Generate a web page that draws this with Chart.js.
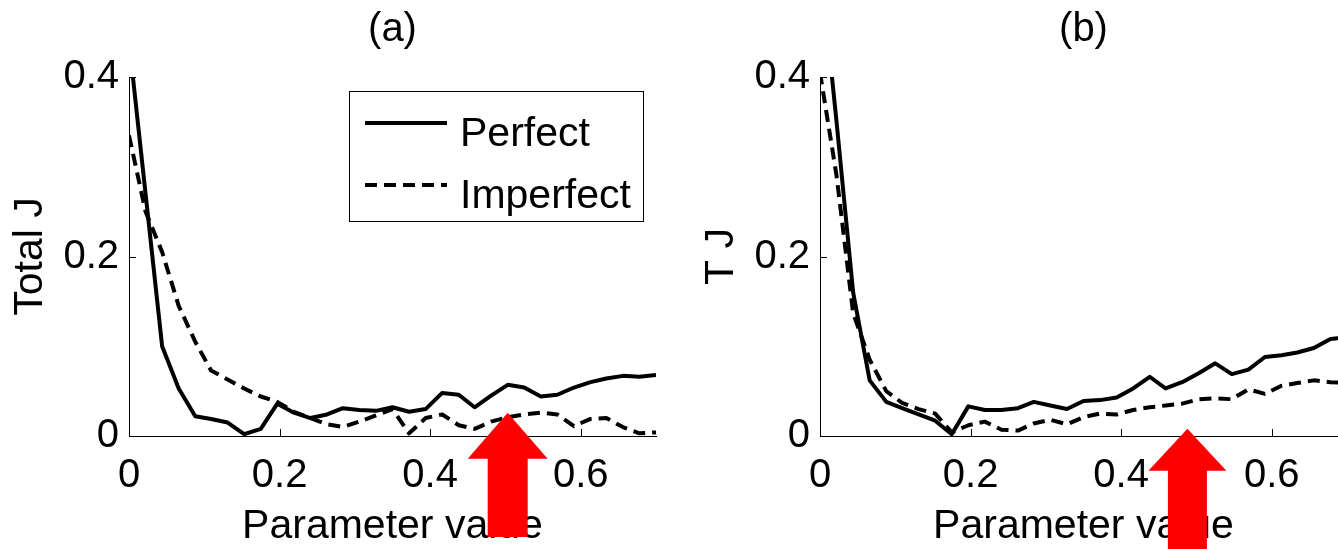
<!DOCTYPE html>
<html>
<head>
<meta charset="utf-8">
<script src="https://cdn.jsdelivr.net/npm/chart.js@4/dist/chart.umd.min.js"></script>
<style>
  html, body { margin: 0; padding: 0; background: #fff; }
  body { width: 1338px; height: 549px; overflow: hidden; position: relative; }
  canvas { position: absolute; top: 0; }
  #panelA { left: 0; }
  #panelB { left: 691px; }
</style>
</head>
<body>
<canvas id="panelA" width="700" height="549"></canvas>
<canvas id="panelB" width="700" height="549"></canvas>
<script>
// parameter sweep shared by both panels
const paramValues = [0, 0.022, 0.044, 0.066, 0.088, 0.109, 0.131, 0.153, 0.175, 0.197, 0.219,
  0.241, 0.263, 0.284, 0.306, 0.328, 0.35, 0.372, 0.394, 0.416, 0.438, 0.459, 0.481, 0.503,
  0.525, 0.547, 0.569, 0.591, 0.613, 0.634, 0.656, 0.678, 0.7];

// (a) Total J
const totalPerfect = [0.44, 0.27, 0.10, 0.053, 0.022, 0.019, 0.015, 0.002, 0.008, 0.036, 0.026,
  0.020, 0.024, 0.031, 0.029, 0.028, 0.032, 0.027, 0.030, 0.048, 0.046, 0.032, 0.045, 0.057,
  0.054, 0.044, 0.046, 0.054, 0.060, 0.064, 0.067, 0.066, 0.068];
const totalImperfect = [0.335, 0.25, 0.205, 0.145, 0.105, 0.073, 0.063, 0.053, 0.044, 0.038, 0.027,
  0.020, 0.013, 0.010, 0.016, 0.023, 0.030, 0.003, 0.020, 0.024, 0.012, 0.008, 0.016, 0.021,
  0.024, 0.026, 0.024, 0.011, 0.019, 0.020, 0.010, 0.003, 0.004];

// (b) T J
const tjPerfect = [0.53, 0.35, 0.16, 0.062, 0.038, 0.031, 0.024, 0.017, 0.002, 0.033, 0.029,
  0.029, 0.031, 0.038, 0.034, 0.030, 0.039, 0.040, 0.043, 0.053, 0.066, 0.053, 0.060, 0.070,
  0.081, 0.069, 0.074, 0.088, 0.090, 0.093, 0.098, 0.108, 0.110];
const tjImperfect = [0.405, 0.29, 0.137, 0.085, 0.050, 0.037, 0.030, 0.025, 0.004, 0.012, 0.016,
  0.007, 0.006, 0.014, 0.018, 0.013, 0.021, 0.025, 0.024, 0.029, 0.032, 0.034, 0.036, 0.041,
  0.042, 0.041, 0.052, 0.047, 0.056, 0.059, 0.062, 0.060, 0.059];

const seriesNames = ["Perfect", "Imperfect"];
const xTickValues = [0, 0.2, 0.4, 0.6];
const yTickValues = [0, 0.2, 0.4];

const FONT = "'Liberation Sans', Arial, Helvetica, sans-serif";

function points(ys) {
  return paramValues.map((x, i) => ({ x: x, y: ys[i] }));
}

// MATLAB-style ticks pointing into the plot box
const innerTicks = {
  id: "innerTicks",
  afterDraw(chart) {
    const { ctx, chartArea, scales } = chart;
    ctx.save();
    ctx.strokeStyle = "#000";
    ctx.lineWidth = 1;
    ctx.beginPath();
    scales.x.ticks.forEach(t => {
      if (t.value === 0) return;
      const px = Math.round(scales.x.getPixelForValue(t.value)) + 0.5;
      ctx.moveTo(px, chartArea.bottom);
      ctx.lineTo(px, chartArea.bottom - 7);
    });
    scales.y.ticks.forEach(t => {
      if (t.value === 0) return;
      const py = Math.round(scales.y.getPixelForValue(t.value)) + 0.5;
      ctx.moveTo(chartArea.left, py);
      ctx.lineTo(chartArea.left + 7, py);
    });
    ctx.stroke();
    ctx.restore();
  }
};

// boxed legend in the upper right of the plot
const boxLegend = {
  id: "boxLegend",
  afterDraw(chart, args, opts) {
    const { ctx, chartArea } = chart;
    const w = 294, h = 130;
    const left = chartArea.right - 13 - w;
    const top = chartArea.top + 14;
    ctx.save();
    ctx.fillStyle = "#fff";
    ctx.fillRect(left, top, w, h);
    ctx.strokeStyle = "#000";
    ctx.lineWidth = 1;
    ctx.strokeRect(left + 0.5, top + 0.5, w, h);
    chart.data.datasets.forEach((ds, i) => {
      const rowY = top + 32 + i * 62;
      ctx.beginPath();
      ctx.lineWidth = ds.borderWidth;
      ctx.strokeStyle = ds.borderColor;
      ctx.setLineDash(ds.borderDash || []);
      ctx.moveTo(left + 16, rowY);
      ctx.lineTo(left + 98, rowY);
      ctx.stroke();
      ctx.setLineDash([]);
      ctx.fillStyle = "#000";
      ctx.font = "41px " + FONT;
      ctx.textAlign = "left";
      ctx.textBaseline = "alphabetic";
      ctx.fillText(ds.label, left + 111, rowY + 23);
    });
    ctx.restore();
  }
};

// red up-arrow pointing at a spot on the x axis
const upArrow = {
  id: "upArrow",
  afterDraw(chart, args, opts) {
    const { ctx, scales } = chart;
    const tipX = scales.x.getPixelForValue(opts.x);
    const tipY = scales.y.getPixelForValue(opts.y);
    const hw = opts.headWidth / 2, sw = opts.shaftWidth / 2;
    const baseY = tipY + opts.headHeight;
    ctx.save();
    ctx.fillStyle = "#ff0000";
    ctx.beginPath();
    ctx.moveTo(tipX, tipY);
    ctx.lineTo(tipX + hw, baseY);
    ctx.lineTo(tipX + sw, baseY);
    ctx.lineTo(tipX + sw, opts.bottom);
    ctx.lineTo(tipX - sw, opts.bottom);
    ctx.lineTo(tipX - sw, baseY);
    ctx.lineTo(tipX - hw, baseY);
    ctx.closePath();
    ctx.fill();
    ctx.restore();
  }
};

function makePanel(id, title, yTitle, perfect, imperfect, arrow, withLegend) {
  const plugins = [innerTicks, upArrow];
  if (withLegend) plugins.push(boxLegend);
  return new Chart(document.getElementById(id), {
    type: "line",
    data: {
      datasets: [
        {
          label: seriesNames[0],
          data: points(perfect),
          borderColor: "#000",
          borderWidth: 4,
          pointRadius: 0,
          tension: 0,
          fill: false,
          borderJoinStyle: "round"
        },
        {
          label: seriesNames[1],
          data: points(imperfect),
          borderColor: "#000",
          borderWidth: 4,
          borderDash: [12, 7],
          pointRadius: 0,
          tension: 0,
          fill: false,
          borderJoinStyle: "round"
        }
      ]
    },
    options: {
      responsive: false,
      animation: false,
      devicePixelRatio: 1,
      layout: { autoPadding: false, padding: { left: 0, top: 0, right: 44, bottom: 0 } },
      plugins: {
        legend: { display: false },
        tooltip: { enabled: false },
        title: {
          display: true,
          text: title,
          fullSize: false,
          color: "#000",
          font: { family: FONT, size: 40, weight: "normal", lineHeight: 1.2 },
          padding: { top: 6, bottom: 23 }
        },
        upArrow: arrow
      },
      scales: {
        x: {
          type: "linear",
          min: 0,
          max: 0.7,
          afterBuildTicks: s => { s.ticks = xTickValues.map(v => ({ value: v })); },
          afterFit: s => { s.height = 113; },
          grid: { display: false, drawTicks: false },
          border: { display: true, color: "#000", width: 1 },
          ticks: {
            color: "#000",
            padding: 16,
            maxRotation: 0,
            font: { family: FONT, size: 40 },
            callback: v => String(+v.toFixed(1))
          },
          title: {
            display: true,
            text: "Parameter value",
            color: "#000",
            font: { family: FONT, size: 41, lineHeight: 1 },
            padding: { top: 0, bottom: 2 }
          }
        },
        y: {
          type: "linear",
          min: 0,
          max: 0.4,
          afterBuildTicks: s => { s.ticks = yTickValues.map(v => ({ value: v })); },
          afterFit: s => { s.width = 129; },
          grid: { display: false, drawTicks: false },
          border: { display: true, color: "#000", width: 1 },
          ticks: {
            color: "#000",
            padding: 10,
            font: { family: FONT, size: 40 },
            callback: v => String(+v.toFixed(1))
          },
          title: {
            display: true,
            text: yTitle,
            color: "#000",
            font: { family: FONT, size: 41, lineHeight: 1 },
            padding: { top: 10, bottom: 0 }
          }
        }
      }
    },
    plugins: plugins
  });
}

makePanel("panelA", "(a)", "Total J", totalPerfect, totalImperfect,
  { x: 0.503, y: 0.026, headWidth: 80, headHeight: 46, shaftWidth: 40, bottom: 537 }, true);
makePanel("panelB", "(b)", "T J", tjPerfect, tjImperfect,
  { x: 0.488, y: 0.008, headWidth: 78, headHeight: 42, shaftWidth: 39, bottom: 560 }, false);
</script>
</body>
</html>
